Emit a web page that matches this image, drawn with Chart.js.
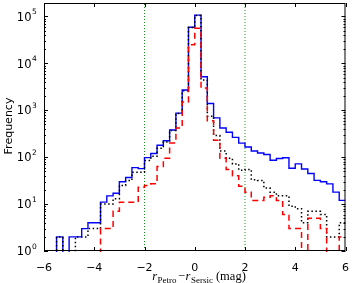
<!DOCTYPE html>
<html>
<head>
<meta charset="utf-8">
<script src="https://cdn.jsdelivr.net/npm/chart.js@4.4.0/dist/chart.umd.min.js"></script>
<style>
html,body{margin:0;padding:0;background:#fff;}
#wrap{width:360px;height:283px;}
</style>
</head>
<body>
<div id="wrap"><canvas id="c" width="360" height="283"></canvas></div>
<script>
// Bin edges of the histogram (mag)
const binEdges = [-6,-5.75,-5.5,-5.25,-5,-4.75,-4.5,-4.25,-4,-3.75,-3.5,-3.25,-3,-2.75,-2.5,-2.25,-2,-1.75,-1.5,-1.25,-1,-0.75,-0.5,-0.25,0,0.25,0.5,0.75,1,1.25,1.5,1.75,2,2.25,2.5,2.75,3,3.25,3.5,3.75,4,4.25,4.5,4.75,5,5.25,5.5,5.75,6];
// Counts per bin (blue solid)
const countsBlue = [0,0,2,0,2,2,3,4,4,11,15,17,30,37,60,57,98,120,180,225,380,870,2700,59000,107000,5200,1400,690,420,340,265,200,165,136,123,114,86,94,97,58,72,56,45,32,30,27,18,12];
// Counts per bin (black dotted)
const countsBlack = [0,0,2,0,0,2,2,3,3,10,10,13,25,32,48,48,85,105,155,210,370,850,2600,58000,105000,4400,750,290,135,95,72,53,55,33,32,22,18,15,15,9,8,4,7,7,6,2,2,4];
// Counts per bin (red dashed)
const countsRed = [0,0,0,0,0,0,0,0,0,3,3,7,11,11,11,23,25,27,63,95,200,420,1500,25000,56000,3000,600,230,95,55,40,24,18,12,12,14,15,12,6,3,3,0,5,5,3,0,0,2];
// Axis ticks
const xTickValues = [-6,-4,-2,0,2,4,6];
const yDecades = [0,1,2,3,4,5];
// Vertical reference lines
const refLines = [-2, 2];

const Y_MIN = 1, Y_MAX = 1.94e5;

function stepData(counts){
  const pts = counts.map((c,i)=>({x: binEdges[i], y: c > 0 ? c : 0.1}));
  pts.push({x: binEdges[binEdges.length-1], y: pts[pts.length-1].y});
  return pts;
}

const fmt = v => v < 0 ? '\u2212' + Math.abs(v) : String(v);

const decor = {
  id: 'decor',
  afterDatasetsDraw(chart){
    const {ctx, chartArea:a, scales:{x, y}} = chart;
    ctx.save();
    ctx.strokeStyle = '#000';
    ctx.lineWidth = 1;
    ctx.beginPath();
    for (const v of xTickValues){
      const px = Math.round(x.getPixelForValue(v)) + 0.5;
      ctx.moveTo(px, a.bottom); ctx.lineTo(px, a.bottom - 4);
      ctx.moveTo(px, a.top); ctx.lineTo(px, a.top + 4);
    }
    for (const e of yDecades){
      for (let m = 1; m <= 9; m++){
        const v = m * Math.pow(10, e);
        if (v > Y_MAX) break;
        const py = Math.round(y.getPixelForValue(v)) + 0.5;
        const len = m === 1 ? 4 : 2;
        ctx.moveTo(a.left, py); ctx.lineTo(a.left + len, py);
        ctx.moveTo(a.right, py); ctx.lineTo(a.right - len, py);
      }
    }
    ctx.stroke();
    ctx.strokeRect(a.left + 0.5, a.top + 0.5, a.right - a.left - 1, a.bottom - a.top - 1);

    // y tick labels 10^n
    ctx.fillStyle = '#000';
    for (const e of yDecades){
      const py = y.getPixelForValue(Math.pow(10, e));
      ctx.font = '11.5px "DejaVu Sans"';
      ctx.textAlign = 'right';
      ctx.textBaseline = 'alphabetic';
      ctx.fillText('10', 31.5, py + 4.2);
      ctx.font = '7.5px "DejaVu Sans"';
      ctx.textAlign = 'left';
      ctx.fillText(String(e), 32, py - 2.4);
    }
    // y axis title
    ctx.save();
    ctx.translate(11.5, 126);
    ctx.rotate(-Math.PI/2);
    ctx.font = '11px "DejaVu Sans"';
    ctx.textAlign = 'center';
    ctx.textBaseline = 'alphabetic';
    ctx.fillText('Frequency', 0, 0);
    ctx.restore();

    // x axis title: r_Petro − r_Sersic (mag)
    const pieces = [
      {t:'r', f:'italic 12.5px "Liberation Serif"', dy:0, gap:0.5},
      {t:'Petro', f:'9px "Liberation Serif"', dy:3, gap:1.5},
      {t:'\u2212', f:'12.5px "Liberation Serif"', dy:0, gap:0.5},
      {t:'r', f:'italic 12.5px "Liberation Serif"', dy:0, gap:0.5},
      {t:'Sersic', f:'9px "Liberation Serif"', dy:3, gap:3},
      {t:'(mag)', f:'12.5px "Liberation Serif"', dy:0, gap:0}
    ];
    let total = 0;
    for (const p of pieces){ ctx.font = p.f; p.w = ctx.measureText(p.t).width; total += p.w + p.gap; }
    let cx = 199 - total/2;
    ctx.textAlign = 'left';
    for (const p of pieces){
      ctx.font = p.f;
      ctx.fillText(p.t, cx, 279.5 + p.dy);
      cx += p.w + p.gap;
    }
    ctx.restore();
  }
};

const exactClip = {left:0, right:0, top:0, bottom:1};

new Chart(document.getElementById('c'), {
  type: 'line',
  data: {
    datasets: [
      {label:'red', data: stepData(countsRed), stepped: true, borderColor:'#ff0000', borderWidth:1.5, borderDash:[6,4], pointRadius:0, fill:false, order:0, clip: exactClip},
      {label:'black', data: stepData(countsBlack), stepped: true, borderColor:'#000000', borderWidth:1.5, borderDash:[1.5,2.5], pointRadius:0, fill:false, order:1, clip: exactClip},
      {label:'blue', data: stepData(countsBlue), stepped: true, borderColor:'#0000ff', borderWidth:1.4, pointRadius:0, fill:false, order:2, clip: exactClip},
      ...refLines.map(v => ({label:'ref'+v, data:[{x:v,y:Y_MIN},{x:v,y:Y_MAX}], borderColor:'#1a901a', borderWidth:1, borderDash:[1,2], pointRadius:0, fill:false, order:3}))
    ]
  },
  options: {
    responsive: false,
    animation: false,
    devicePixelRatio: 1,
    layout: {padding: {top:3, right:5, left:0, bottom:0}},
    plugins: {legend:{display:false}, tooltip:{enabled:false}},
    scales: {
      x: {
        type:'linear', min:-6, max:6,
        grid:{display:false, drawTicks:false},
        border:{display:false},
        ticks:{stepSize:2, padding:11, color:'#000', font:{family:'DejaVu Sans', size:11}, callback: v => fmt(v), maxRotation:0},
        afterFit(s){ s.height = 32; }
      },
      y: {
        type:'logarithmic', min:Y_MIN, max:Y_MAX,
        grid:{display:false, drawTicks:false},
        border:{display:false},
        ticks:{display:false},
        afterFit(s){ s.width = 44; }
      }
    }
  },
  plugins: [decor]
});
</script>
</body>
</html>
